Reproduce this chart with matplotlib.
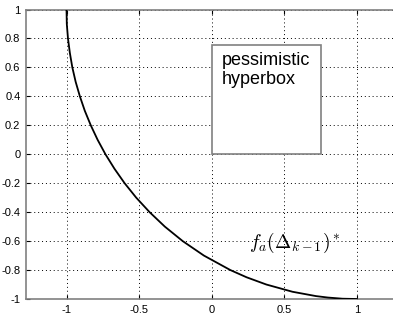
import matplotlib
matplotlib.use("Agg")
import matplotlib.pyplot as plt
from matplotlib.patches import Rectangle

# Pareto front traced in the objective plane
front_x = [-1.000, -0.999, -0.998, -0.990, -0.977, -0.960, -0.937, -0.908, -0.874,
           -0.833, -0.786, -0.732, -0.670, -0.600, -0.520, -0.428, -0.323, -0.200,
           -0.054, 0.128, 0.240, 0.376, 0.556, 0.718, 0.800, 0.900, 1.000]
front_y = [1.00, 0.95, 0.90, 0.80, 0.70, 0.60, 0.50, 0.40, 0.30,
           0.20, 0.10, 0.00, -0.10, -0.20, -0.30, -0.40, -0.50, -0.60,
           -0.70, -0.80, -0.85, -0.90, -0.95, -0.98, -0.99, -0.998, -1.00]

# pessimistic hyperbox corners (x0, x1) and (y0, y1)
box_x = [0.0, 0.75]
box_y = [0.0, 0.755]

xticks = [-1, -0.5, 0, 0.5, 1]
xticklabels = ["-1", "-0.5", "0", "0.5", "1"]
yticks = [-1, -0.8, -0.6, -0.4, -0.2, 0, 0.2, 0.4, 0.6, 0.8, 1]
yticklabels = ["-1", "-0.8", "-0.6", "-0.4", "-0.2", "0", "0.2", "0.4", "0.6", "0.8", "1"]

plt.rcParams["font.family"] = ["Liberation Sans", "DejaVu Sans"]
plt.rcParams["mathtext.fontset"] = "cm"

W, H = 393, 320
fig = plt.figure(figsize=(W / 100, H / 100), dpi=100)
left_px, right_px = 26, 397.5
top_px, bot_px = 9.5, 299
ax = fig.add_axes([left_px / W, (H - bot_px) / H,
                   (right_px - left_px) / W, (bot_px - top_px) / H])

ax.set_xlim(-1.279, 1.279)
ax.set_ylim(-1, 1)

ax.grid(True, color="black", linestyle=(0, (1, 3)), linewidth=0.7)
ax.set_axisbelow(True)

ax.plot(front_x, front_y, color="black", linewidth=1.3, zorder=3)

ax.add_patch(Rectangle((box_x[0], box_y[0]), box_x[1] - box_x[0], box_y[1] - box_y[0],
                       facecolor="white", edgecolor="#808080", linewidth=1.2, zorder=4))
ax.text(0.069, 0.705, "pessimistic\nhyperbox", ha="left", va="top",
        fontsize=13, linespacing=1.1, color="black", zorder=5)

ax.text(0.255, -0.613, r"$f_a(\Delta_{k-1})^*$", ha="left", va="center",
        fontsize=14, color="black", zorder=5)

ax.set_xticks(xticks)
ax.set_xticklabels(xticklabels)
ax.set_yticks(yticks)
ax.set_yticklabels(yticklabels)
ax.tick_params(direction="in", length=3, width=0.8, labelsize=8, pad=4,
               colors="black", top=True, right=True)

for side in ax.spines.values():
    side.set_color("#808080")
    side.set_linewidth(1.2)

fig.savefig("out.png", dpi=100)
